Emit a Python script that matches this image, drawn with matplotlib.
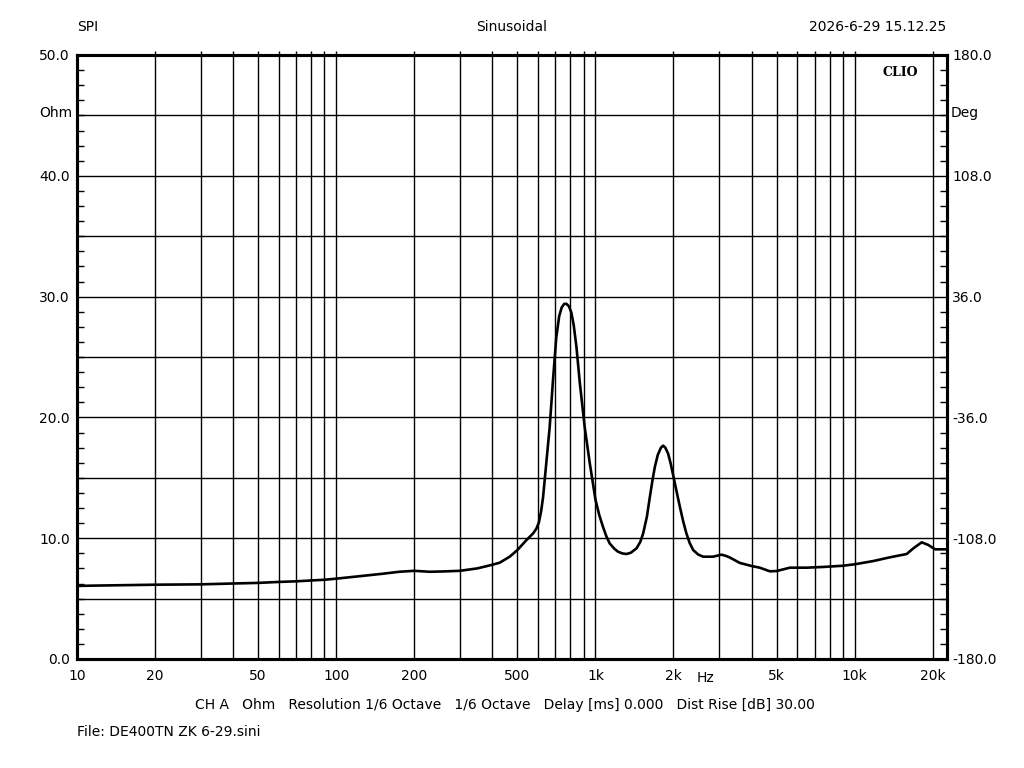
import matplotlib
matplotlib.use("Agg")
import matplotlib.pyplot as plt
from matplotlib.ticker import FixedLocator, NullFormatter, NullLocator

# ---- data ----
freq_hz = [10, 12, 20, 30, 40, 50, 60, 70, 80, 90, 100, 125, 150, 175, 200, 230,
           260, 300, 350, 400, 427, 467, 500, 542, 575, 592, 605, 618, 628, 637,
           650, 666, 686, 706, 725, 741, 758, 773, 790, 807, 825, 845, 870, 909,
           951, 1000, 1035, 1069, 1100, 1134, 1180, 1222, 1270, 1318, 1370, 1440,
           1490, 1528, 1580, 1621, 1660, 1695, 1740, 1790, 1825, 1860, 1907, 1950,
           2000, 2050, 2112, 2180, 2243, 2310, 2383, 2490, 2603, 2845, 3066, 3200,
           3300, 3608, 4000, 4304, 4708, 5000, 5624, 6528, 7570, 9000, 10000,
           11800, 13690, 15870, 16840, 18140, 19240, 20420, 22650]
impedance_ohm = [6.05, 6.08, 6.15, 6.18, 6.25, 6.30, 6.38, 6.43, 6.50, 6.56, 6.65,
                 6.87, 7.05, 7.22, 7.30, 7.22, 7.25, 7.30, 7.50, 7.80, 7.97, 8.47,
                 9.02, 9.85, 10.4, 10.8, 11.3, 12.3, 13.4, 14.8, 16.8, 19.2, 23.1,
                 26.6, 28.4, 29.1, 29.4, 29.4, 29.2, 28.7, 27.6, 25.8, 22.9, 19.2,
                 16.2, 13.2, 11.9, 10.95, 10.2, 9.58, 9.15, 8.88, 8.74, 8.69, 8.8,
                 9.16, 9.7, 10.4, 11.8, 13.4, 14.8, 15.9, 16.9, 17.5, 17.66, 17.5,
                 17.0, 16.2, 15.1, 14.0, 12.7, 11.4, 10.4, 9.6, 9.02, 8.65, 8.47,
                 8.47, 8.64, 8.52, 8.40, 7.95, 7.70, 7.56, 7.26, 7.28, 7.56, 7.56,
                 7.62, 7.72, 7.84, 8.11, 8.42, 8.69, 9.16, 9.66, 9.44, 9.08, 9.08]

x_tick_values = [10, 20, 50, 100, 200, 500, 1000, 2000, 5000, 10000, 20000]
x_tick_labels = ["10", "20", "50", "100", "200", "500", "1k", "2k", "5k", "10k", "20k"]
left_ticks = [0, 10, 20, 30, 40, 50]
left_labels = ["0.0", "10.0", "20.0", "30.0", "40.0", "50.0"]
right_ticks = [-180, -108, -36, 36, 108, 180]
right_labels = ["-180.0", "-108.0", "-36.0", "36.0", "108.0", "180.0"]

FONT = "DejaVu Sans"
FS = 10

fig = plt.figure(figsize=(10.24, 7.68), dpi=100)
W, H = 1024, 768
x0, x1, ytop, ybot = 77, 946.7, 55, 659
ax = fig.add_axes([x0 / W, 1 - ybot / H, (x1 - x0) / W, (ybot - ytop) / H])

ax.set_xscale("log")
ax.set_xlim(10, 22650)
ax.set_ylim(0, 50)

# grid
grid_x = [m * 10 ** d for d in range(1, 5) for m in range(1, 10)]
grid_x = [g for g in grid_x if 10 < g <= 20000]
for g in grid_x:
    ax.axvline(g, color="black", lw=1.0, zorder=1)
for gy in range(5, 50, 5):
    ax.axhline(gy, color="black", lw=1.0, zorder=1)

ax.plot(freq_hz, impedance_ohm, color="black", lw=1.9, zorder=3,
        solid_joinstyle="round", solid_capstyle="round")

for s in ax.spines.values():
    s.set_linewidth(2.2)
    s.set_color("black")

# x ticks
ax.xaxis.set_major_locator(FixedLocator(x_tick_values))
ax.set_xticklabels(x_tick_labels, fontfamily=FONT, fontsize=FS)
ax.xaxis.set_minor_locator(NullLocator())
ax.tick_params(axis="x", which="major", length=0, pad=7)

# left y ticks
ax.yaxis.set_major_locator(FixedLocator(left_ticks))
ax.set_yticklabels(left_labels, fontfamily=FONT, fontsize=FS)
ax.yaxis.set_minor_locator(FixedLocator([i * 1.25 for i in range(1, 40)]))
ax.yaxis.set_minor_formatter(NullFormatter())
ax.tick_params(axis="y", which="major", length=0, pad=5)
ax.tick_params(axis="y", which="minor", direction="in", length=5, width=1)

# top ticks
axt = ax.secondary_xaxis("top")
axt.xaxis.set_major_locator(FixedLocator(grid_x))
axt.xaxis.set_minor_locator(NullLocator())
axt.xaxis.set_major_formatter(NullFormatter())
axt.tick_params(axis="x", direction="out", length=3, width=1)
axt.spines["top"].set_visible(False)

# right axis
ax2 = ax.twinx()
ax2.set_ylim(-180, 180)
ax2.yaxis.set_major_locator(FixedLocator(right_ticks))
ax2.set_yticklabels(right_labels, fontfamily=FONT, fontsize=FS)
ax2.yaxis.set_minor_locator(FixedLocator([-180 + i * 9 for i in range(1, 40)]))
ax2.yaxis.set_minor_formatter(NullFormatter())
ax2.tick_params(axis="y", which="major", length=0, pad=4)
ax2.tick_params(axis="y", which="minor", direction="in", length=5, width=1)
for s in ax2.spines.values():
    s.set_linewidth(2.2)

# unit labels
def fx(px):
    return px / W

def fy(py):
    return 1 - py / H

fig.text(fx(72), fy(113), "Ohm", ha="right", va="center", fontfamily=FONT, fontsize=FS)
fig.text(fx(951), fy(113), "Deg", ha="left", va="center", fontfamily=FONT, fontsize=FS)
fig.text(fx(705), fy(678), "Hz", ha="center", va="center", fontfamily=FONT, fontsize=FS)

# header
fig.text(fx(77), fy(27), "SPI", ha="left", va="center", fontfamily=FONT, fontsize=FS)
fig.text(fx(512), fy(27), "Sinusoidal", ha="center", va="center", fontfamily=FONT, fontsize=FS)
fig.text(fx(946), fy(27), "2026-6-29 15.12.25", ha="right", va="center",
         fontfamily=FONT, fontsize=FS)

# footer
fig.text(fx(505), fy(705),
         "CH A   Ohm   Resolution 1/6 Octave   1/6 Octave   Delay [ms] 0.000   Dist Rise [dB] 30.00",
         ha="center", va="center", fontfamily=FONT, fontsize=FS)
fig.text(fx(77), fy(732), "File: DE400TN ZK 6-29.sini", ha="left", va="center",
         fontfamily=FONT, fontsize=FS)

# CLIO logo
ax.text(0.947, 0.982, "CLIO", transform=ax.transAxes, ha="center", va="top",
        fontfamily="DejaVu Serif", fontweight="bold", fontsize=9, zorder=5,
        bbox=dict(facecolor="white", edgecolor="none", pad=2))

fig.savefig("out.png", dpi=100, facecolor="white")
